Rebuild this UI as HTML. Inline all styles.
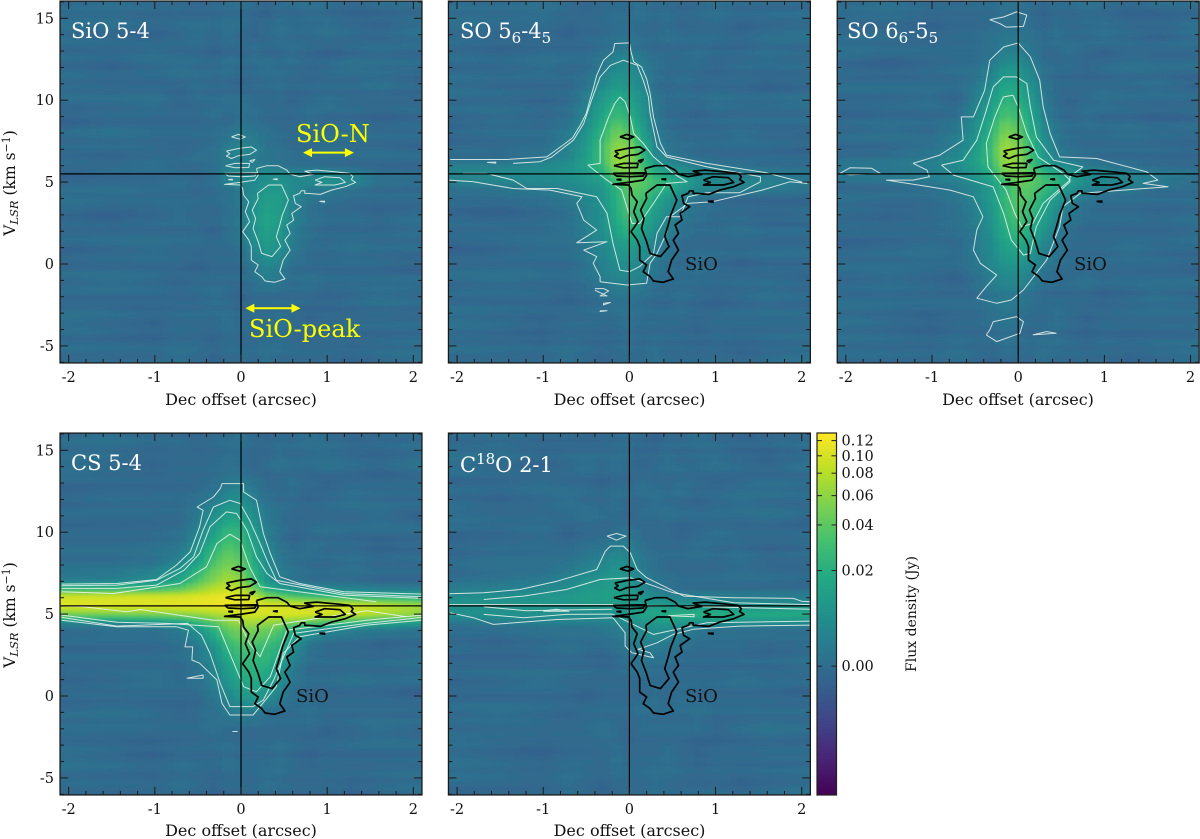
<!DOCTYPE html>
<html>
<head>
<meta charset="utf-8">
<title>Position-velocity diagrams</title>
<style>
html,body{margin:0;padding:0;background:#fff;}
svg{display:block;}
text{font-family:"DejaVu Serif","Liberation Serif",serif;}
.tick{font-size:14.5px;fill:#111;}
.title{font-size:16px;fill:#111;text-anchor:middle;}
.ytitle{font-size:15.5px;fill:#111;text-anchor:middle;}
.cbtitle{font-size:14px;fill:#111;text-anchor:middle;}
.pl{font-size:21px;fill:#fff;}
.sio{font-size:18px;fill:#111;}
.yel{font-size:24px;fill:#ffff00;}
</style>
</head>
<body>
<svg id="fig" xmlns="http://www.w3.org/2000/svg" width="1200" height="839" viewBox="0 0 1200 839">
<defs>
<filter id="soft" x="-5%" y="-5%" width="110%" height="110%"><feGaussianBlur stdDeviation="1"/></filter>
</defs>
<g id="marks"></g>
<text class="pl" x="71" y="38">SiO 5-4</text>
<text class="pl" x="460" y="38">SO 5<tspan font-size="15" dy="5">6</tspan><tspan dy="-5">-4</tspan><tspan font-size="15" dy="5">5</tspan></text>
<text class="pl" x="847" y="38">SO 6<tspan font-size="15" dy="5">6</tspan><tspan dy="-5">-5</tspan><tspan font-size="15" dy="5">5</tspan></text>
<text class="pl" x="71" y="470">CS 5-4</text>
<text class="pl" x="460" y="472">C<tspan font-size="15" dy="-8">18</tspan><tspan dy="8">O 2-1</tspan></text>
<text class="yel" x="296" y="142">SiO-N</text>
<text class="yel" x="249" y="337">SiO-peak</text>
<text class="sio" x="685" y="270">SiO</text>
<text class="sio" x="1074" y="270">SiO</text>
<text class="sio" x="296" y="702">SiO</text>
<text class="sio" x="685" y="702">SiO</text>
<text class="title" x="241" y="405">Dec offset (arcsec)</text>
<text class="title" x="629.5" y="405">Dec offset (arcsec)</text>
<text class="title" x="1018" y="405">Dec offset (arcsec)</text>
<text class="title" x="241" y="836">Dec offset (arcsec)</text>
<text class="title" x="629.5" y="836">Dec offset (arcsec)</text>
<text class="ytitle" transform="translate(15,183) rotate(-90)">V<tspan font-size="11.5" font-style="italic" dy="3">LSR</tspan><tspan dy="-3"> (km s</tspan><tspan font-size="11" dy="-5">−1</tspan><tspan dy="5">)</tspan></text>
<text class="ytitle" transform="translate(15,615) rotate(-90)">V<tspan font-size="11.5" font-style="italic" dy="3">LSR</tspan><tspan dy="-3"> (km s</tspan><tspan font-size="11" dy="-5">−1</tspan><tspan dy="5">)</tspan></text>
<text class="cbtitle" transform="translate(916,614) rotate(-90)">Flux density (Jy)</text>
</svg>
<script>
// ---- grid axes of the position-velocity maps ----
const offsets = [-2.1,-1.5,-1,-.7,-.5,-.3,-.15,0,.15,.3,.45,.6,.8,1,1.3,1.6,2.1];
const velocities = [16,14,13,12,11,10,9,8,7,6.5,6,5.5,5,4.5,4,3,2,1,0,-1,-2,-3.5,-6];
const xTickValues = [-2,-1,0,1,2];
const yTickValues = [-5,0,5,10,15];
const cbarTickValues = [0.12,0.10,0.08,0.06,0.04,0.02,0];
const cbarTickLabels = ["0.12","0.10","0.08","0.06","0.04","0.02","0.00"];
// colour normalisation (mJy -> bar fraction)
const normFlux = [-16,-5,-2,0,5,10,20,40,60,80,100,120,130];
const normFrac = [0,.25,.31,.356,.45,.52,.62,.746,.827,.889,.937,.979,1];
const viridisStops = ["#440154","#482475","#414487","#355f8d","#2a788e","#21918c","#22a884","#44bf70","#7ad151","#bddf26","#fde725"];
// streak texture, mJy per thin velocity band
const bandLeft = [1,-1,0,2,-1,-2,1,0,-1,1,2,-1,0,-2,1,1,-1,0,2,-1,-1,1,0,-2,1,2,0,-1,1,-1,-2,0,1,1,-1,2,0,-1,-2,1,0,1,-1,0];
const bandRight = [-1,0,2,-1,1,0,-2,1,1,-1,0,-2,2,0,-1,1,0,2,-1,-2,1,0,-1,2,0,-1,1,-2,0,2,1,-1,-1,0,2,-2,1,0,1,-1,-2,0,2,1];

// ---- flux grids in mJy (rows follow velocities, columns follow offsets) ----
const sioGrid = [
[0,1,0,0,-1,0,0,1,0,-1,0,0,1,0,-1,0,0],
[1,0,-1,0,1,0,1,0,-1,0,1,0,0,1,0,-1,1],
[0,0,1,0,0,-1,0,0,1,0,0,1,0,-1,0,1,0],
[0,-1,0,1,0,0,1,0,0,1,0,0,-1,0,1,0,0],
[1,0,0,0,1,0,0,-1,0,0,1,0,0,0,0,1,-1],
[0,0,1,-1,0,0,1,1,0,0,0,-1,0,1,0,0,0],
[-1,0,0,0,0,1,0,1,1,0,0,0,1,0,0,-1,0],
[0,1,0,0,0,0,1,3,2,1,0,0,0,0,1,0,0],
[0,0,0,-1,0,1,4,6,5,2,1,0,0,1,0,0,-1],
[0,-1,0,0,1,1,3,4,3,1,1,0,0,0,0,0,0],
[0,0,1,0,0,1,4,5,4,4,2,1,1,1,0,0,0],
[-1,0,0,0,0,1,6,7,7,8,8,6,6,7,5,1,0],
[0,0,0,1,0,1,5,7,6,9,9,7,6,9,6,1,0],
[0,1,0,0,-1,0,1,3,7,11,11,7,3,3,1,0,0],
[1,0,0,0,0,0,1,3,8,13,13,6,2,1,0,0,0],
[0,-1,0,1,0,0,1,3,10,16,13,5,1,0,0,-1,0],
[0,0,0,0,0,-1,1,3,9,15,11,4,1,0,0,0,1],
[-1,0,1,0,0,0,0,1,6,11,9,3,0,0,1,0,0],
[0,0,0,0,-1,0,0,0,3,7,5,1,0,0,0,0,-1],
[0,1,0,-1,0,0,0,0,1,3,2,0,1,0,0,0,0],
[0,0,0,0,0,1,0,-1,0,0,0,0,0,-1,0,1,0],
[1,0,-1,0,0,0,1,0,0,0,1,0,-1,0,0,0,0],
[0,0,0,1,0,-1,0,0,0,1,0,0,0,0,-1,0,1]];
const so56Grid = [
[0,0,1,0,-1,0,0,0,1,0,0,-1,0,1,0,0,0],
[1,0,0,-1,0,0,1,1,0,0,1,0,0,0,-1,0,1],
[0,-1,0,0,0,1,3,4,1,0,0,0,1,0,0,1,0],
[0,0,1,0,0,3,7,7,4,1,0,0,0,-1,0,0,0],
[1,0,0,0,2,7,11,10,6,1,0,1,0,0,0,-1,0],
[0,0,-1,0,4,12,20,15,8,2,0,0,0,1,0,0,1],
[0,1,0,1,6,18,30,22,10,3,0,0,-1,0,0,0,0],
[-1,0,0,3,9,25,48,35,14,3,1,0,0,0,1,0,0],
[0,0,1,5,12,32,65,58,24,6,2,1,0,0,0,0,-1],
[1,1,3,6,14,32,70,62,28,9,4,2,1,0,0,0,0],
[3,3,6,8,14,28,62,60,30,14,8,5,3,2,1,0,0],
[6,8,8,9,12,20,45,50,40,22,16,11,7,6,4,3,1],
[4,5,6,7,9,14,30,45,40,30,22,16,8,7,6,5,3],
[1,2,3,5,7,10,22,40,36,25,18,10,5,4,3,2,0],
[0,0,1,3,6,10,22,38,32,18,11,5,2,1,0,0,0],
[0,-1,0,1,5,9,20,33,22,12,6,3,1,0,0,-1,0],
[0,0,0,1,4,8,16,22,14,7,4,1,0,0,1,0,0],
[-1,0,1,1,3,6,11,13,9,4,2,0,0,0,0,0,0],
[0,0,0,0,2,5,8,8,6,3,1,0,1,0,-1,0,0],
[0,1,0,0,1,3,5,5,4,1,0,0,0,0,0,0,-1],
[0,0,0,-1,0,1,2,2,1,0,0,1,0,-1,0,1,0],
[1,0,-1,0,0,0,0,1,0,0,0,0,-1,0,0,0,0],
[0,0,0,1,0,-1,0,0,0,1,0,0,0,0,-1,0,1]];
const so66Grid = [
[0,1,0,0,0,0,1,1,0,-1,0,0,1,0,-1,0,0],
[0,0,-1,0,0,1,2,2,1,0,1,0,0,1,0,-1,1],
[1,0,0,0,0,1,4,4,2,0,0,1,0,-1,0,0,0],
[0,-1,0,1,1,4,9,9,5,1,0,0,-1,0,1,0,0],
[0,0,0,0,2,7,16,14,8,2,0,0,0,0,0,1,-1],
[0,0,1,-1,4,12,24,20,12,3,0,-1,0,1,0,0,0],
[-1,0,0,1,6,18,36,30,16,5,1,0,1,0,0,-1,0],
[0,1,0,3,8,24,55,40,20,7,2,0,0,0,1,0,0],
[0,0,2,5,11,30,72,58,28,10,3,1,0,0,0,0,-1],
[0,1,3,7,14,30,68,60,30,12,5,2,1,0,0,0,0],
[2,2,4,7,13,26,62,58,32,16,9,6,3,2,1,0,0],
[3,3,4,6,10,20,48,50,42,26,18,12,7,6,4,3,1],
[1,2,3,5,8,14,32,46,42,32,24,14,8,7,6,4,1],
[0,0,1,3,6,12,26,40,38,28,16,8,4,3,2,0,0],
[1,0,0,2,5,12,26,40,34,20,11,5,2,0,0,0,0],
[0,-1,0,1,4,10,24,36,26,14,6,2,0,0,0,-1,0],
[0,0,0,1,3,9,20,28,18,10,4,1,0,0,0,0,1],
[-1,0,1,0,3,7,15,18,12,5,2,0,0,0,1,0,0],
[0,0,0,0,2,6,10,10,7,3,1,0,0,0,0,0,-1],
[0,1,0,-1,1,4,6,6,4,1,0,0,1,0,0,0,0],
[0,0,0,0,0,2,3,3,1,0,0,0,0,-1,0,1,0],
[1,0,-1,0,0,1,2,1,0,0,1,0,-1,0,0,0,0],
[0,0,0,1,0,-1,0,0,0,1,0,0,0,0,-1,0,1]];
const csGrid = [
[0,1,0,0,-1,0,0,1,0,-1,0,0,1,0,-1,0,0],
[1,0,-1,0,0,0,1,0,-1,0,1,0,0,1,0,-1,1],
[0,0,0,0,0,1,3,4,2,0,0,1,0,-1,0,0,0],
[-1,0,0,0,1,3,7,8,4,1,0,0,-1,0,1,0,0],
[0,0,0,0,3,9,14,14,8,3,1,0,0,0,0,1,-1],
[0,0,0,1,5,14,26,24,12,4,1,-1,0,1,0,0,0],
[0,0,1,2,9,24,38,30,16,6,2,0,1,0,0,-1,0],
[1,1,2,7,16,38,52,42,20,8,3,1,0,0,1,0,0],
[4,5,9,18,36,60,75,60,28,11,5,3,1,1,1,0,0],
[25,26,30,42,62,85,90,80,50,22,14,8,6,5,4,3,3],
[100,102,104,106,110,115,118,110,90,60,50,42,35,30,25,22,18],
[105,106,108,110,112,115,118,115,112,105,100,100,105,100,95,85,70],
[50,52,55,60,65,75,85,95,100,100,105,105,100,100,90,75,60],
[4,5,7,12,25,40,60,70,70,65,60,50,40,32,25,18,12],
[0,1,1,3,8,22,42,50,50,45,35,20,8,5,3,2,1],
[0,0,0,1,3,10,25,35,32,28,22,8,2,0,0,-1,0],
[0,0,0,0,2,6,15,25,24,22,14,4,0,0,0,0,1],
[-1,0,1,0,1,5,10,18,20,15,8,2,0,0,1,0,0],
[0,0,0,0,0,3,6,11,14,9,5,1,0,0,0,0,-1],
[0,1,0,-1,0,1,3,4,3,1,0,0,1,0,0,0,0],
[0,0,0,0,0,1,0,0,0,0,0,0,0,-1,0,1,0],
[1,0,-1,0,0,0,1,0,0,0,1,0,-1,0,0,0,0],
[0,0,0,1,0,-1,0,0,0,1,0,0,0,0,-1,0,1]];
const c18oGrid = [
[0,1,0,0,-1,0,0,1,0,-1,0,0,1,0,-1,0,0],
[1,0,-1,0,1,0,1,0,-1,0,1,0,0,1,0,-1,1],
[0,0,1,0,0,-1,0,0,1,0,0,1,0,-1,0,1,0],
[0,-1,0,1,0,0,1,0,0,1,0,0,-1,0,1,0,0],
[1,0,0,0,1,0,0,-1,0,0,1,0,0,0,0,1,-1],
[0,0,1,-1,0,0,1,2,0,0,0,-1,0,1,0,0,0],
[-1,0,0,0,1,2,4,4,1,0,0,0,1,0,0,-1,0],
[0,1,1,2,4,6,9,7,3,1,0,0,0,0,1,0,0],
[1,2,3,6,9,11,13,9,5,2,1,0,0,0,0,0,-1],
[4,5,7,9,12,13,14,11,7,4,2,1,1,1,1,1,1],
[7,8,10,11,13,14,15,13,10,7,5,5,4,4,4,4,4],
[9,10,10,10,11,11,12,12,12,13,12,12,11,10,9,9,9],
[8,9,9,8,8,8,9,12,15,18,20,22,22,21,20,20,20],
[3,4,5,5,5,5,6,8,10,12,13,12,10,9,8,8,7],
[0,0,1,1,1,2,3,5,7,8,7,4,2,1,1,1,1],
[0,-1,0,1,0,0,1,3,4,3,2,1,0,0,0,-1,0],
[0,0,0,0,0,-1,0,1,2,1,1,0,0,0,0,0,1],
[-1,0,1,0,0,0,0,0,0,0,0,0,0,0,1,0,0],
[0,0,0,0,-1,0,0,0,0,1,0,1,0,0,0,0,-1],
[0,1,0,-1,0,0,0,0,1,0,0,0,1,0,0,0,0],
[0,0,0,0,0,1,0,-1,0,0,0,0,0,-1,0,1,0],
[1,0,-1,0,0,0,1,0,0,0,1,0,-1,0,0,0,0],
[0,0,0,1,0,-1,0,0,0,1,0,0,0,0,-1,0,1]];

// ---- SiO 5-4 contours, [offset arcsec, velocity km/s] ----
const sioContours = [
[[.18,5.83],[.30,6.0],[.43,6.0],[.53,5.73],[.57,5.49],[.68,5.33],[.84,5.47],[.74,5.67],[.88,5.73],[1.09,5.63],[1.26,5.53],[1.30,5.33],[1.28,5.16],[1.33,4.98],[1.21,4.72],[1.05,4.51],[.92,4.25],[.78,4.31],[.74,4.31],[.74,4.47],[.70,4.47],[.68,4.31],[.61,4.17],[.63,3.70],[.70,3.50],[.59,3.09],[.61,2.68],[.53,2.38],[.57,1.87],[.51,1.46],[.57,.85],[.49,.24],[.45,-.47],[.51,-.91],[.39,-1.12],[.28,-1.04],[.24,-.77],[.16,-.47],[.20,-.06],[.12,.24],[.12,1.06],[.09,1.46],[.02,1.97],[.10,2.58],[.05,3.19],[.09,3.80],[.03,4.21],[.02,4.61],[-.01,4.82],[-.19,4.86],[-.01,4.98],[.16,5.12],[.2,5.43],[.18,5.83]],
[[.19,4.31],[.32,4.82],[.47,4.82],[.55,3.90],[.48,2.99],[.45,2.38],[.41,1.67],[.46,1.06],[.36,.45],[.24,.65],[.20,1.36],[.14,2.17],[.17,2.78],[.13,3.29],[.20,4.0],[.19,4.31]],
[[.86,5.12],[.97,5.33],[1.15,5.27],[1.21,4.98],[1.09,4.82],[.96,4.82],[.86,4.82],[.94,4.98],[.86,5.12]],
[[-.19,5.53],[.18,5.57],[.16,5.37],[.01,5.33],[-.15,5.37],[-.19,5.53]],
[[-.18,6.0],[-.07,6.14],[.10,6.14],[.09,5.89],[-.07,5.87],[-.18,6.0]],
[[-.17,6.89],[-.03,7.05],[.12,7.15],[.18,6.95],[.10,6.69],[-.03,6.61],[-.11,6.44],[-.17,6.59],[-.13,6.73],[-.17,6.89]],
[[-.11,7.76],[-.03,7.91],[.05,7.76],[-.01,7.62],[-.11,7.76]],
[[.10,6.3],[.16,6.38],[.13,6.2],[.10,6.3]],
[[.37,5.18],[.42,5.2],[.42,5.14],[.37,5.18]],
[[.91,3.82],[.97,3.84],[.97,3.78],[.91,3.82]],
[[-.15,5.16],[-.1,5.18],[-.1,5.12],[-.15,5.16]]];
const so56Contours = [
[[-2.08,6.38],[-1.42,6.38],[-.96,6.54],[-.77,7.26],[-.66,7.7],[-.57,8.48],[-.5,9.2],[-.46,10.0],[-.41,10.9],[-.38,11.52],[-.30,12.44],[-.19,12.95],[-.17,13.46],[0,13.5],[.02,12.95],[.05,12.34],[.14,12.03],[.2,11.3],[.24,10.41],[.28,8.98],[.36,7.36],[.43,6.65],[.90,6.14],[1.59,5.57],[2.06,4.92],[1.86,5.02],[1.54,4.51],[.96,3.80],[.68,3.70],[.47,2.89],[.43,1.87],[.32,.65],[.24,.04],[.20,-1.18],[-.03,-1.28],[-.34,-1.08],[-.34,-.77],[-.42,.04],[-.38,.45],[-.53,.85],[-.26,1.36],[-.61,1.30],[-.38,2.07],[-.53,2.68],[-.61,3.70],[-.55,4.1],[-.92,4.51],[-1.35,4.61],[-1.81,5.02],[-2.09,5.12]],
[[-1.35,6.14],[-1.04,6.24],[-.90,6.54],[-.65,7.56],[-.53,8.58],[-.44,10.0],[-.34,11.42],[-.22,12.13],[-.07,12.44],[.09,12.13],[.16,11.22],[.22,10.2],[.24,9.19],[.32,7.15],[.43,6.54],[.90,5.93],[1.52,5.33],[1.52,5.02],[1.28,4.35],[.90,4.35],[.68,4.1],[.59,2.89],[.43,2.89],[.32,1.87],[.28,.65],[.12,-.16],[0,-.47],[-.11,-.37],[-.19,1.26],[-.26,3.09],[-.38,4.1],[-.84,4.61],[-1.19,4.61],[-1.35,5.12],[-1.66,5.53],[-1.93,5.53]],
[[-.11,10.2],[-.05,9.9],[.01,8.98],[.05,7.97],[.16,7.36],[.28,6.54],[.51,5.53],[.67,5.02],[.43,4.92],[.28,3.7],[.12,2.48],[.03,2.48],[-.03,3.5],[-.09,4.51],[-.26,5.12],[-.48,6.04],[-.34,6.14],[-.34,7.56],[-.24,8.98],[-.17,9.8],[-.11,10.2]],
[[-.4,-1.5],[-.3,-1.5],[-.24,-1.65],[-.34,-1.95],[-.26,-1.95],[-.4,-1.6]],
[[-.3,-2.4],[-.22,-2.35],[-.3,-2.5],[-.3,-2.4]],
[[-.34,-2.85],[-.26,-2.85],[-.34,-2.9],[-.34,-2.85]],
[[-1.65,6.2],[-1.55,6.22],[-1.55,6.16],[-1.65,6.2]]];
const so66Contours = [
[[-1.22,6.14],[-.91,6.65],[-.64,7.56],[-.66,8.98],[-.52,8.98],[-.39,10.6],[-.33,12.44],[-.17,13.25],[0,13.5],[.14,12.65],[.25,11.22],[.29,9.59],[.37,7.97],[.48,6.54],[.91,6.44],[1.49,5.63],[1.62,5.12],[1.45,4.92],[1.74,4.72],[1.22,4.51],[.72,4.31],[.52,3.5],[.48,2.28],[.33,.24],[.21,-.57],[.06,-1.59],[-.08,-2.2],[-.25,-2.4],[-.48,-2.09],[-.37,-1.38],[-.25,-.67],[-.44,.04],[-.52,.85],[-.48,2.07],[-.41,2.89],[-.52,4.1],[-.79,4.51],[-1.03,4.72],[-1.53,5.12],[-1.22,5.12],[-1.03,5.33],[-1.06,5.73],[-1.22,6.14]],
[[-.89,6.04],[-.64,6.34],[-.48,7.56],[-.37,9.39],[-.29,10.81],[-.17,11.42],[-.02,11.42],[.10,11.02],[.14,9.59],[.21,7.76],[.41,6.34],[.75,5.93],[.6,5.33],[.6,5.02],[.37,3.9],[.21,2.28],[.14,.65],[.06,.55],[-.08,1.46],[-.17,3.09],[-.29,4.71],[-.75,5.43],[-.89,6.04]],
[[-.17,10.2],[-.06,10.3],[0,9.59],[.10,7.97],[.23,6.54],[.52,5.53],[.6,5.12],[.29,3.7],[.17,2.48],[.04,2.28],[-.04,3.09],[-.14,4.51],[-.35,5.93],[-.37,7.36],[-.27,8.98],[-.19,10.0],[-.17,10.2]],
[[-2.07,5.53],[-1.95,5.88],[-1.7,5.84],[-1.6,5.53],[-1.95,5.45],[-2.07,5.53]],
[[-.33,14.92],[-.17,15.08],[-.02,15.39],[.10,15.2],[.06,14.5],[-.14,14.46],[-.21,14.67],[-.33,14.92]],
[[-.37,-4.33],[-.25,-4.74],[.02,-4.23],[.06,-3.52],[-.02,-3.21],[-.29,-3.52],[-.33,-4.02],[-.37,-4.33]],
[[.17,-4.33],[.44,-4.23],[.33,-4.13],[.17,-4.33]]];
const csContours = [
[[-2.08,6.83],[-1.44,6.87],[-.98,7.11],[-.75,7.99],[-.59,8.8],[-.48,10.33],[-.44,11.34],[-.51,11.54],[-.32,12.15],[-.24,12.66],[-.22,12.97],[.03,12.97],[.03,12.46],[.18,11.95],[.26,9.92],[.34,8.7],[.45,7.28],[.68,6.87],[1.19,6.36],[2.10,6.22]],
[[2.09,4.63],[1.46,4.33],[.68,3.62],[.49,2.6],[.41,.57],[.14,-1.16],[-.13,-1.16],[-.22,-.45],[-.28,.98],[-.48,2.0],[-.57,2.2],[-.56,3.0],[-.65,3.0],[-.61,4.02],[-.75,4.23],[-1.44,4.23],[-2.08,4.63]],
[[-2.08,6.73],[-1.44,6.77],[-.98,7.07],[-.71,7.78],[-.55,8.5],[-.44,10.12],[-.32,11.54],[-.13,11.95],[-.01,11.75],[.10,10.73],[.22,9.31],[.30,8.29],[.41,7.07],[1.19,6.26],[2.1,6.06]],
[[2.1,4.8],[1.46,4.43],[.61,3.82],[.38,.98],[.26,-.24],[.14,-.65],[-.13,-.65],[-.24,.77],[-.36,2.6],[-.46,3.72],[-.62,4.43],[-1.44,4.27],[-2.08,4.8]],
[[-2.08,6.57],[-1.44,6.57],[-.98,6.77],[-.66,7.68],[-.48,8.7],[-.36,10.33],[-.17,11.24],[-.05,11.14],[.07,10.12],[.18,8.5],[.30,7.48],[.45,6.87],[1.19,6.16],[2.1,5.96]],
[[2.1,4.94],[1.46,4.63],[.53,4.02],[.34,1.18],[.18,.26],[.03,.57],[-.13,2.6],[-.26,4.23],[-.86,4.43],[-1.44,4.5],[-2.08,4.94]],
[[-2.08,6.36],[-1.48,6.26],[-.71,6.87],[-.40,7.89],[-.28,9.31],[-.13,9.88],[-.01,9.51],[.10,7.89],[.22,6.67],[1.57,5.75]],
[[1.92,4.84],[1.46,5.2],[.38,4.33],[.22,2.4],[.1,3.2],[-.03,4.63],[-.32,4.63],[-1.17,5.28],[-1.33,5.14],[-1.83,5.45],[-2.08,5.49]],
[[-.63,1.08],[-.44,1.28],[-.44,1.08],[-.63,1.08]],
[[-.1,-2.17],[-.04,-2.17]]];
const c18oContours = [
[[-2.09,6.24],[-1.69,6.3],[-1.27,6.5],[-.84,7.01],[-.38,7.72],[-.28,8.84],[-.22,9.15],[-.07,9.15],[.01,8.74],[.09,7.72],[.2,7.22],[.63,6.1],[1.21,6.0],[1.9,5.96],[2.0,5.79],[2.1,5.75]],
[[-2.08,5.08],[-1.81,4.78],[-1.58,4.37],[-.84,4.67],[-.19,4.78],[-.05,3.86],[-.05,3.05],[.03,2.64],[.28,2.34],[.24,2.64],[.1,2.85],[.32,3.25],[.51,3.76],[.74,4.07],[1.28,4.27],[2.1,4.33]],
[[-1.69,5.89],[-1.23,6.1],[-.73,6.5],[-.34,7.11],[.01,7.22],[.51,6.3],[1.21,5.69],[2.1,5.58]],
[[-1.69,4.98],[-1.23,4.78],[-.73,4.98],[-.2,5.0],[.28,3.76],[.9,4.47],[2.1,4.57]],
[[-2.09,5.58],[-.2,5.58],[2.1,5.3]],
[[-1.69,5.45],[-1.2,5.2],[-.8,5.25],[-.2,5.3]],
[[-1,5.18],[-.85,5.3],[-.7,5.18],[-1,5.18]],
[[-.26,9.76],[-.15,9.92],[-.04,9.76],[-.15,9.51],[-.26,9.76]],
[[.45,4.9],[.75,4.98],[.75,4.84],[.45,4.9]]];

// ---- yellow range arrows: [from offset, to offset, velocity] ----
const sioNArrow = [.72,1.31,6.8];
const sioPeakArrow = [.05,.69,-2.7];

const NS = "http://www.w3.org/2000/svg";
const marks = document.getElementById("marks");
const XSCALE = 86.17, YSCALE = 16.38;
function mk(tag, parent, attrs){
  const el = document.createElementNS(NS, tag);
  for (const k in attrs) el.setAttribute(k, attrs[k]);
  parent.appendChild(el);
  return el;
}
function fluxToFrac(f){
  if (f <= normFlux[0]) return 0;
  for (let i = 1; i < normFlux.length; i++){
    if (f <= normFlux[i]) {
      const t = (f - normFlux[i-1]) / (normFlux[i] - normFlux[i-1]);
      return normFrac[i-1] + t * (normFrac[i] - normFrac[i-1]);
    }
  }
  return 1;
}
const viridisRGB = viridisStops.map(function(h){
  return [parseInt(h.slice(1,3),16),parseInt(h.slice(3,5),16),parseInt(h.slice(5,7),16)];
});
function fracToColor(fr){
  const p = Math.min(9.999, Math.max(0, fr * 10));
  const i = Math.floor(p), t = p - i;
  const a = viridisRGB[i], b = viridisRGB[i+1];
  return "rgb(" + Math.round(a[0]+(b[0]-a[0])*t) + "," + Math.round(a[1]+(b[1]-a[1])*t) + "," + Math.round(a[2]+(b[2]-a[2])*t) + ")";
}
function bracket(arr, v, desc){
  for (let i = 0; i < arr.length - 1; i++){
    const lo = arr[i], hi = arr[i+1];
    if (desc ? (v <= lo && v >= hi) : (v >= lo && v <= hi)) return [i, (v - lo) / (hi - lo)];
  }
  return desc ? (v > arr[0] ? [0,0] : [arr.length-2,1]) : (v < arr[0] ? [0,0] : [arr.length-2,1]);
}
function sampleGrid(grid, off, vel, shift){
  const bx = bracket(offsets, off, false), by = bracket(velocities, vel, true);
  const r0 = grid[by[0]], r1 = grid[by[0]+1];
  const top = r0[bx[0]] + (r0[bx[0]+1] - r0[bx[0]]) * bx[1];
  const bot = r1[bx[0]] + (r1[bx[0]+1] - r1[bx[0]]) * bx[1];
  const base = top + (bot - top) * by[1];
  const bp = (vel + 6) / 0.3 + shift;
  const bi = Math.floor(bp), bt = bp - bi, n = bandLeft.length;
  const bl = bandLeft[bi % n] + (bandLeft[(bi+1) % n] - bandLeft[bi % n]) * bt;
  const br = bandRight[bi % n] + (bandRight[(bi+1) % n] - bandRight[bi % n]) * bt;
  const w = (off + 2.1) / 4.2;
  return base + 0.55 * (bl + (br - bl) * w) - 0.4;
}
function drawPanel(p, idx){
  const xPix = function(o){ return p.cx + XSCALE * o; };
  const yPix = function(v){ return p.cy - YSCALE * v; };
  const left = xPix(-2.1), right = xPix(2.1), top = yPix(16.05), bottom = yPix(-6.04);
  const panel = mk("g", marks, {});
  
  
  const clip = mk("clipPath", panel, {id: "clip" + idx});
  mk("rect", clip, {x: left, y: top, width: right - left, height: bottom - top});
  const clipped = mk("g", panel, {"clip-path": "url(#clip" + idx + ")"});
  const heat = mk("g", clipped, {filter: "url(#soft)", "shape-rendering": "crispEdges"});
  
  
  for (let py = top - 6; py < bottom + 6; py += 3){
    for (let px = left - 6; px < right + 6; px += 6){
      const off = Math.max(-2.1, Math.min(2.1, (px + 3 - p.cx) / XSCALE));
      const vel = Math.max(-6, Math.min(16, (p.cy - py - 1.5) / YSCALE));
      const cell = mk("rect", heat, {x: px, y: py, width: 6.5, height: 3.5, fill: fracToColor(fluxToFrac(sampleGrid(p.grid, off, vel, p.shift)))});
      
      
    }
  }
  function line(contour, color, width, name){
    const pts = contour.map(function(q){ return xPix(q[0]).toFixed(1) + "," + yPix(q[1]).toFixed(1); }).join(" ");
    const pl = mk("polyline", clipped, {points: pts, fill: "none", stroke: color, "stroke-width": width, "stroke-linejoin": "round"});
    
    
  }
  p.contours.forEach(function(c){ line(c, "rgba(235,245,240,0.85)", 1, p.name + '-contour'); });
  if (p.overlay) sioContours.forEach(function(c){ line(c, "#000", 1.7, 'sio-overlay-contour'); });
  const vLine = mk("line", clipped, {x1: xPix(0), x2: xPix(0), y1: top, y2: bottom, stroke: "#000", "stroke-width": 1.2});
  
  
  const hLine = mk("line", clipped, {x1: left, x2: right, y1: yPix(5.5), y2: yPix(5.5), stroke: "#000", "stroke-width": 1.2});
  
  
  const axis = mk("g", panel, {stroke: "#1a1a1a"});
  
  
  for (let i = -10; i <= 10; i++){
    const x = xPix(i * 0.2), len = i % 5 === 0 ? 8 : 4;
    mk("line", axis, {x1: x, x2: x, y1: bottom, y2: bottom - len, "stroke-width": 1});
    mk("line", axis, {x1: x, x2: x, y1: top, y2: top + len, "stroke-width": 1});
  }
  for (let v = -6; v <= 16; v++){
    const y = yPix(v), len = v % 5 === 0 ? 8 : 4;
    mk("line", axis, {x1: left, x2: left + len, y1: y, y2: y, "stroke-width": 1});
    mk("line", axis, {x1: right, x2: right - len, y1: y, y2: y, "stroke-width": 1});
  }
  mk("rect", axis, {x: left, y: top, width: right - left, height: bottom - top, fill: "none", "stroke-width": 1.3});
  xTickValues.forEach(function(t){
    const label = mk("text", panel, {x: xPix(t), y: bottom + 19, "text-anchor": "middle", class: "tick"});
    label.textContent = String(t);
    
    
  });
  if (p.showY) yTickValues.forEach(function(t){
    const label = mk("text", panel, {x: left - 6, y: yPix(t) + 5, "text-anchor": "end", class: "tick"});
    label.textContent = String(t);
    
    
  });
  return {xPix: xPix, yPix: yPix};
}
function drawArrow(axes, a, name){
  const g = mk("g", marks, {fill: "#ffff00", stroke: "none"});
  
  
  const x1 = axes.xPix(a[0]), x2 = axes.xPix(a[1]), y = axes.yPix(a[2]);
  mk("rect", g, {x: x1 + 5, y: y - 1, width: x2 - x1 - 10, height: 2});
  mk("polygon", g, {points: x1 + "," + y + " " + (x1 + 9) + "," + (y - 4.5) + " " + (x1 + 9) + "," + (y + 4.5)});
  mk("polygon", g, {points: x2 + "," + y + " " + (x2 - 9) + "," + (y - 4.5) + " " + (x2 - 9) + "," + (y + 4.5)});
}
const layout = [
  {name: "sio", grid: sioGrid, contours: sioContours, overlay: false, cx: 241, cy: 264, showY: true, shift: 0},
  {name: "so-56", grid: so56Grid, contours: so56Contours, overlay: true, cx: 629.4, cy: 264, showY: false, shift: 7},
  {name: "so-66", grid: so66Grid, contours: so66Contours, overlay: true, cx: 1018.2, cy: 264, showY: false, shift: 13},
  {name: "cs", grid: csGrid, contours: csContours, overlay: true, cx: 241, cy: 696, showY: true, shift: 19},
  {name: "c18o", grid: c18oGrid, contours: c18oContours, overlay: true, cx: 629.4, cy: 696, showY: false, shift: 29}
];
const drawn = layout.map(drawPanel);
drawArrow(drawn[0], sioNArrow, 'sio-n-arrow');
drawArrow(drawn[0], sioPeakArrow, 'sio-peak-arrow');

// ---- colour bar ----
(function(){
  const X0 = 817, X1 = 836.5, Y0 = 433, Y1 = 795;
  const cb = mk("g", marks, {});
  
  
  for (let i = 0; i < 181; i++){
    const r = mk("rect", cb, {x: X0, y: Y1 - (i + 1) * 2, width: X1 - X0, height: 2.4, fill: fracToColor((i + .5) / 181)});
    
    
  }
  mk("rect", cb, {x: X0, y: Y0, width: X1 - X0, height: Y1 - Y0, fill: "none", stroke: "#222", "stroke-width": 1.2});
  cbarTickValues.forEach(function(t, i){
    const y = Y1 - (Y1 - Y0) * fluxToFrac(t * 1000);
    mk("line", cb, {x1: X0, x2: X0 + 5, y1: y, y2: y, stroke: "#222", "stroke-width": 1});
    mk("line", cb, {x1: X1 - 5, x2: X1, y1: y, y2: y, stroke: "#222", "stroke-width": 1});
    const label = mk("text", cb, {x: X1 + 5, y: y + 5, class: "tick"});
    label.textContent = cbarTickLabels[i];
    
    
  });
})();
</script>
</body>
</html>
